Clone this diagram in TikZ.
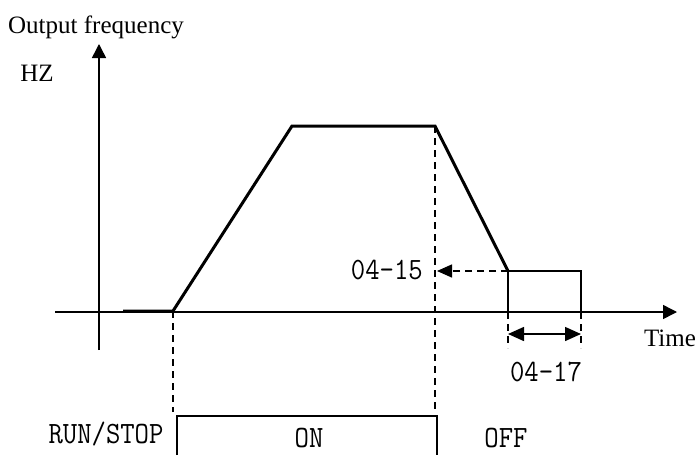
\documentclass[tikz,border=0pt]{standalone}
\usepackage{fontspec}
\usepackage{graphicx}
\setmainfont{Liberation Serif}
\usetikzlibrary{arrows.meta}
\tikzset{
  axis/.style={line width=1.5pt,-{Triangle[length=14pt,width=14pt]}},
  curve/.style={line width=3pt,line join=miter},
  thin/.style={line width=1.5pt},
  dsh/.style={line width=1.5pt,dash pattern=on 7pt off 5pt},
  serif/.style={font=\fontsize{25}{25}\selectfont,inner sep=0pt},
  mono/.style={font=\ttfamily\fontsize{31}{31}\selectfont,inner sep=0pt},
  tip/.style={-{Triangle[length=15pt,width=13pt]}}
}
\newcommand{\cond}[1]{\scalebox{0.9}[1]{#1}}
\begin{document}
\begin{tikzpicture}[x=1pt,y=-1pt]
\useasboundingbox (0,0) rectangle (698,455);
% axes
\coordinate (ybot) at (99,350);
\coordinate (ytop) at (99,44);
\coordinate (xl) at (55,312);
\coordinate (xr) at (677,312);
\draw[axis] (ybot) -- (ytop);
\draw[axis] (xl) -- (xr);
% curve
\coordinate (p0) at (123,311);
\coordinate (p1) at (173,311);
\coordinate (p2) at (292,126);
\coordinate (p3) at (435,126);
\coordinate (p4) at (508,271);
\draw[curve] (p0) -- (p1) -- (p2) -- (p3) -- (p4);
% rectangle
\coordinate (r1) at (581,271);
\coordinate (r2) at (581,312);
\coordinate (r0) at (508,312);
\draw[thin] (p4) -- (r1) -- (r2);
\draw[thin] (p4) -- (r0);
% dashed guides
\coordinate (d1) at (173,412);
\coordinate (d2) at (435,412);
\draw[dsh] (p1) -- (d1);
\draw[dsh] (p3) -- (d2);
\coordinate (a15) at (437,271);
\draw[dsh,tip] (p4) -- (a15);
\coordinate (e0) at (508,348);
\coordinate (e1) at (581,348);
\draw[dsh] (r0) -- (e0);
\draw[dsh] (r2) -- (e1);
\coordinate (b0) at (508,334);
\coordinate (b1) at (581,334);
\draw[line width=1.5pt,{Triangle[length=16pt,width=14pt]}-{Triangle[length=16pt,width=14pt]}] (b0) -- (b1);
% ON box
\coordinate (s0) at (177,455);
\coordinate (s1) at (177,416);
\coordinate (s2) at (437,416);
\coordinate (s3) at (437,455);
\draw[line width=1.8pt] (s0) -- (s1) -- (s2) -- (s3);
% texts
\node[serif,anchor=west] (of) at (8,27) {Output frequency};
\node[serif] (hz) at (37,73) {HZ};
\node[serif] (time) at (670,338) {Time};
\node[mono,anchor=east] (t15) at (423,270) {\cond{04-15}};
\node[mono] (t17) at (546,372) {\cond{04-17}};
\node[mono] (rs) at (106,434) {\cond{RUN/STOP}};
\node[mono] (on) at (309,438) {\cond{ON}};
\node[mono] (off) at (506,438) {\cond{OFF}};
\end{tikzpicture}
\end{document}
